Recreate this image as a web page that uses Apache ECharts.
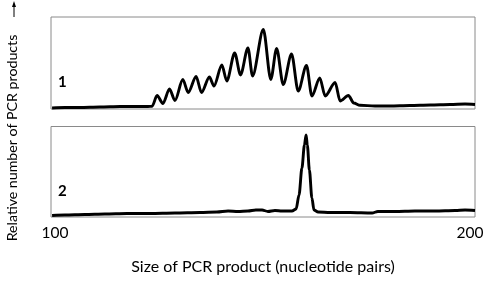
<!DOCTYPE html>
<html>
<head>
<meta charset="utf-8">
<script src="https://cdn.jsdelivr.net/npm/echarts@6/dist/echarts.min.js"></script>
<style>html,body{margin:0;padding:0;background:#fff;}#c{width:492px;height:284px;}</style>
</head>
<body>
<div id="c"></div>
<script>
// Panel 1: size (bp) and relative amount
const size1 = [99.3,102.4,106.0,110.8,115.7,119.3,122.4,123.4,124.6,126.0,127.6,128.9,130.8,132.1,134.0,135.3,137.2,138.3,140.2,141.4,143.3,144.7,146.5,147.6,150.2,152.0,153.4,155.0,157.0,158.6,160.6,161.9,163.8,165.1,167.5,168.7,170.7,172.0,173.5,177.1,180.7,185.5,190.4,195.2,198.8,201.2];
const amount1 = [1.1,1.6,1.6,2.2,2.7,2.7,2.7,3.0,14.7,6.0,21.7,9.2,32,17.9,35.3,17.9,34.8,25,47.8,30.4,60.9,37,66.3,35.9,86.4,32.1,65.8,26.6,59.8,19.6,47.3,14.1,33.7,14.1,28.8,8.7,14.7,6.5,4.0,3.3,3.3,3.8,4.3,4.9,5.4,4.9];
// Panel 2
const size2 = [99.3,102.4,107.2,112.0,117.3,122.9,128.9,134.9,139.0,141.7,144.1,146.5,148.4,149.9,151.3,153.0,154.7,157.1,158.1,158.8,159.5,160.1,160.5,160.8,161.3,161.9,162.4,163.4,166.3,171.1,176.4,177.8,181.9,186.7,191.6,196.4,198.8,201.2];
const amount2 = [1.7,2.2,2.8,3.3,3.9,3.9,4.4,5.0,5.5,6.6,6.1,6.6,7.7,7.7,6.1,7.2,6.6,6.6,8.8,24.3,54.1,79.6,90.6,79.6,51.9,21.0,7.7,5.5,5.0,5.0,4.4,6.1,6.1,6.6,6.6,7.2,7.7,7.2];
const tickValues = [100, 200];
const panelLabels = ['1', '2'];
const xTitle = 'Size of PCR product (nucleotide pairs)';
const yTitle = 'Relative number of PCR products';

const FONT = 'Lato';
const zip = (a, b) => a.map((v, i) => [v, b[i]]);
const xMin = 99.04, xMax = 201.2;

const chart = echarts.init(document.getElementById('c'), null, {renderer: 'canvas'});
const gridCommon = {left: 51, width: 424, show: true, borderColor: '#8a8a8a', borderWidth: 1, backgroundColor: 'transparent'};
chart.setOption({
  animation: false,
  backgroundColor: '#fff',
  grid: [
    Object.assign({top: 17, height: 92}, gridCommon),
    Object.assign({top: 126.5, height: 90.5}, gridCommon)
  ],
  xAxis: [
    {gridIndex: 0, type: 'value', min: xMin, max: xMax, show: false},
    {gridIndex: 1, type: 'value', min: xMin, max: xMax,
     axisLine: {show: false}, axisTick: {show: false}, splitLine: {show: false},
     axisLabel: {customValues: tickValues, color: '#000', fontFamily: FONT, fontSize: 15.5, margin: 8},
     name: xTitle, nameLocation: 'middle', nameGap: 42,
     nameTextStyle: {color: '#000', fontFamily: FONT, fontSize: 16}}
  ],
  yAxis: [
    {gridIndex: 0, type: 'value', min: 0, max: 100, show: false},
    {gridIndex: 1, type: 'value', min: 0, max: 100, show: false}
  ],
  series: [
    {type: 'line', xAxisIndex: 0, yAxisIndex: 0, data: zip(size1, amount1), showSymbol: false, smooth: 0.3, smoothMonotone: 'x',
     lineStyle: {color: '#000', width: 2.9}},
    {type: 'line', xAxisIndex: 1, yAxisIndex: 1, data: zip(size2, amount2), showSymbol: false, smooth: 0.3, smoothMonotone: 'x',
     lineStyle: {color: '#000', width: 2.9}}
  ],
  graphic: [
    {type: 'text', left: 58, top: 75, style: {text: panelLabels[0], font: 'bold 15px ' + FONT, fill: '#000'}},
    {type: 'text', left: 58, top: 184, style: {text: panelLabels[1], font: 'bold 15px ' + FONT, fill: '#000'}},
    {type: 'text', x: 12, y: 138, rotation: Math.PI / 2,
     style: {text: yTitle, font: '14.2px ' + FONT, fill: '#000', align: 'center', verticalAlign: 'middle'}},
    {type: 'line', shape: {x1: 14, y1: 4, x2: 14, y2: 17}, style: {stroke: '#000', lineWidth: 1}},
    {type: 'polygon', shape: {points: [[14, 1], [12, 7], [16, 7]]}, style: {fill: '#000'}}
  ]
});
</script>
</body>
</html>
